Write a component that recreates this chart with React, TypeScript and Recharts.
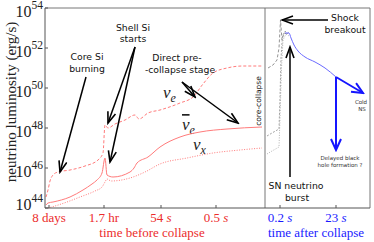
import { LineChart, Line, XAxis, YAxis, ReferenceLine } from "recharts";

// x is a position along the broken time axis, y is log10 of luminosity (erg/s)
const nuE = [[1, 44.55], [3, 44.9], [5, 45.35], [8, 45.65], [13, 45.8], [25, 45.9], [40, 46.1], [53, 46.4], [58, 46.75], [60, 48.15], [63, 48.0], [70, 48.2], [80, 48.4], [90, 48.65], [94, 48.45], [103, 48.75], [115, 48.9], [135, 49.25], [148, 49.55], [158, 50.2], [168, 50.75], [182, 51.0], [198, 51.1], [217, 51.1]];
const nuEBar = [[1, 44.15], [3, 44.25], [8, 44.3], [25, 44.55], [38, 44.9], [47, 45.2], [52, 45.4], [57, 45.75], [60, 46.5], [62, 45.65], [68, 45.55], [85, 45.8], [89, 46.0], [92, 46.25], [103, 46.55], [115, 47.05], [135, 47.55], [155, 47.8], [182, 47.95], [217, 48.05]];
const nuX = [[3, 44.0], [10, 44.1], [22, 44.3], [35, 44.55], [50, 44.85], [57, 45.05], [60, 45.3], [62, 45.45], [66, 45.35], [85, 45.5], [100, 45.8], [115, 46.2], [142, 46.5], [168, 46.75], [195, 46.9], [217, 47.0]];

const nuEAfter = [[223, 51.0], [228, 51.15], [232, 51.4], [234, 52.0], [235.5, 53.4], [237, 52.4], [239, 52.75], [242, 52.7], [244, 52.8]];
const nuEBarAfter = [[222, 47.6], [227, 47.75], [234, 47.95], [235, 49.5], [236, 51.5], [237.5, 52.6], [240, 52.85], [243, 52.7]];
const nuXAfter = [[222, 46.7], [227, 46.85], [234, 47.05], [235, 48.5], [236.5, 51.0], [238, 52.4], [241, 52.7], [244, 52.6]];
const coolingAfter = [[240, 52.75], [244, 52.75], [246, 52.5], [249, 52.15], [253, 51.85], [260, 51.55], [270, 51.3], [280, 51.0], [291, 50.55]];

const blueArrows = [
  [[291, 50.55], [318, 49.75]],
  [[291, 50.55], [291, 46.9]],
];
const blackArrows = [
  [[41, 50.55], [15, 45.8]],
  [[90, 52.05], [63, 48.25]],
  [[90, 52.05], [65, 46.3]],
  [[137, 50.3], [150, 49.55]],
  [[137, 50.3], [193, 48.25]],
  [[283, 53.4], [237, 53.4]],
  [[245, 45.55], [245, 52.05]],
];

const yTicks = [44, 46, 48, 50, 52, 54];
const xTicks = [4, 59, 116, 171, 235, 291];
const xTickNum = ["8 days", "1.7 hr", "54", "0.5", "0.2", "23"];
const xTickUnit = ["", "", "s", "s", "s", "s"];
const collapseAt = 220;
const xMax = 325;

const RED = "#ff7b7b";
const RED_TXT = "#ec2b2b";
const BLUE_TXT = "#1a1aff";
const SERIF = "'Liberation Serif', 'DejaVu Serif', serif";
const SANS = "'DejaVu Sans', sans-serif";

const pts = (a: number[][]) => a.map(([p, l]) => ({ p, l }));

const YTick = (props: any) => {
  const { x, y, payload } = props;
  const base = payload.value === 44 ? y + 2 : y + 9;
  return (
    <text x={x} y={base} textAnchor="end" fontFamily={SERIF} fill="#222">
      <tspan fontSize={16}>10</tspan>
      <tspan fontSize={11.5} dy={-8}>{payload.value}</tspan>
    </text>
  );
};

const XTick = (props: any) => {
  const { x, payload } = props;
  const i = xTicks.indexOf(payload.value);
  const col = payload.value > collapseAt ? BLUE_TXT : RED_TXT;
  return (
    <text x={x} y={222} textAnchor="middle" fontFamily={SERIF} fontSize={13} fill={col}>
      {xTickNum[i]}
      {xTickUnit[i] && <tspan fontStyle="italic">{" " + xTickUnit[i]}</tspan>}
    </text>
  );
};

const arrowShape = (marker: string, color: string, w: number) => (p: any) => (
  <line x1={p.x1} y1={p.y1} x2={p.x2} y2={p.y2} stroke={color} strokeWidth={w} markerEnd={`url(#${marker})`} />
);

export default function App() {
  return (
    <div style={{ position: "absolute", left: 0, top: 0, width: 374, height: 242, background: "#fff" }}>
      <LineChart width={374} height={242} margin={{ top: 8, right: 4, bottom: 0, left: 0 }}>
        <defs>
          <marker id="headK" markerWidth="14" markerHeight="10" refX="12" refY="5" orient="auto" markerUnits="userSpaceOnUse">
            <path d="M1,1 L12,5 L1,9" fill="none" stroke="#000" strokeWidth="1.6" />
          </marker>
          <marker id="headB" markerWidth="14" markerHeight="12" refX="12" refY="6" orient="auto" markerUnits="userSpaceOnUse">
            <path d="M1,1 L12,6 L1,11" fill="none" stroke="#1515ff" strokeWidth="2" />
          </marker>
        </defs>
        <XAxis
          type="number"
          dataKey="p"
          domain={[0, xMax]}
          ticks={xTicks}
          tick={<XTick />}
          tickSize={-3}
          height={34}
          axisLine={{ stroke: "#555" }}
          tickLine={{ stroke: "#555" }}
          interval={0}
        />
        <YAxis
          type="number"
          dataKey="l"
          domain={[44, 54]}
          ticks={yTicks}
          tick={<YTick />}
          tickSize={-3}
          tickMargin={5}
          width={45}
          axisLine={{ stroke: "#555" }}
          tickLine={{ stroke: "#555" }}
          interval={0}
        />
        <ReferenceLine y={54} stroke="#777" />
        <ReferenceLine x={xMax} stroke="#777" />
        <ReferenceLine x={collapseAt} stroke="#777" />

        <Line data={pts(nuE)} dataKey="l" type="monotone" stroke={RED} strokeWidth={1} strokeDasharray="3 2" dot={false} isAnimationActive={false} />
        <Line data={pts(nuEBar)} dataKey="l" type="monotone" stroke={RED} strokeWidth={1} dot={false} isAnimationActive={false} />
        <Line data={pts(nuX)} dataKey="l" type="monotone" stroke={RED} strokeWidth={1} strokeDasharray="1 1.5" dot={false} isAnimationActive={false} />

        <Line data={pts(nuEAfter)} dataKey="l" type="linear" stroke="#888" strokeWidth={0.9} strokeDasharray="3 2" dot={false} isAnimationActive={false} />
        <Line data={pts(nuEBarAfter)} dataKey="l" type="linear" stroke="#999" strokeWidth={0.9} strokeDasharray="2 1.5" dot={false} isAnimationActive={false} />
        <Line data={pts(nuXAfter)} dataKey="l" type="linear" stroke="#aaa" strokeWidth={0.9} strokeDasharray="1 1.5" dot={false} isAnimationActive={false} />
        <Line data={pts(coolingAfter)} dataKey="l" type="monotone" stroke="#6b6bff" strokeWidth={1} dot={false} isAnimationActive={false} />

        {blueArrows.map((s, i) => (
          <ReferenceLine key={"b" + i} segment={[{ x: s[0][0], y: s[0][1] }, { x: s[1][0], y: s[1][1] }]} shape={arrowShape("headB", "#1515ff", 2)} />
        ))}
        {blackArrows.map((s, i) => (
          <ReferenceLine key={"k" + i} segment={[{ x: s[0][0], y: s[0][1] }, { x: s[1][0], y: s[1][1] }]} shape={arrowShape("headK", "#000", 1.5)} />
        ))}

        <g fontFamily={SANS} fontSize={9.3} fill="#111" textAnchor="middle">
          <text x={87} y={60}>Core Si</text>
          <text x={87} y={72}>burning</text>
          <text x={133} y={31}>Shell Si</text>
          <text x={133} y={42}>starts</text>
          <text x={177} y={61}>Direct pre-</text>
          <text x={180} y={73}>-collapse stage</text>
          <text x={345} y={21}>Shock</text>
          <text x={345} y={33}>breakout</text>
          <text x={296} y={189}>SN neutrino</text>
          <text x={297} y={201}>burst</text>
          <text x={259} y={101} fontSize={7.5} transform="rotate(-90 259 101)" dominantBaseline="middle">core-collapse</text>
          <text x={361} y={104} fontSize={5.5} fill="#333">Cold</text>
          <text x={362} y={111} fontSize={5.5} fill="#333">NS</text>
          <text x={340} y={160} fontSize={5.5} fill="#333">Delayed black</text>
          <text x={340} y={167} fontSize={5.5} fill="#333">hole formation ?</text>
        </g>

        <g fontFamily={SERIF} fontStyle="italic" fill="#222">
          <text x={163} y={98} fontSize={17}>ν<tspan fontSize={12} dy={4}>e</tspan></text>
          <text x={182} y={130} fontSize={17}><tspan textDecoration="overline">ν</tspan><tspan fontSize={12} dy={4}>e</tspan></text>
          <text x={193} y={150} fontSize={17}>ν<tspan fontSize={12} dy={4}>x</tspan></text>
        </g>

        <text x={13} y={102} transform="rotate(-90 13 102)" textAnchor="middle" dominantBaseline="middle" fontFamily={SERIF} fontSize={15} fill="#222">
          neutrino luminosity (erg/s)
        </text>
        <text x={152} y={237} textAnchor="middle" fontFamily={SERIF} fontSize={13} fill={RED_TXT}>time before collapse</text>
        <text x={316} y={237} textAnchor="middle" fontFamily={SERIF} fontSize={13} fill={BLUE_TXT}>time after collapse</text>
      </LineChart>
    </div>
  );
}
